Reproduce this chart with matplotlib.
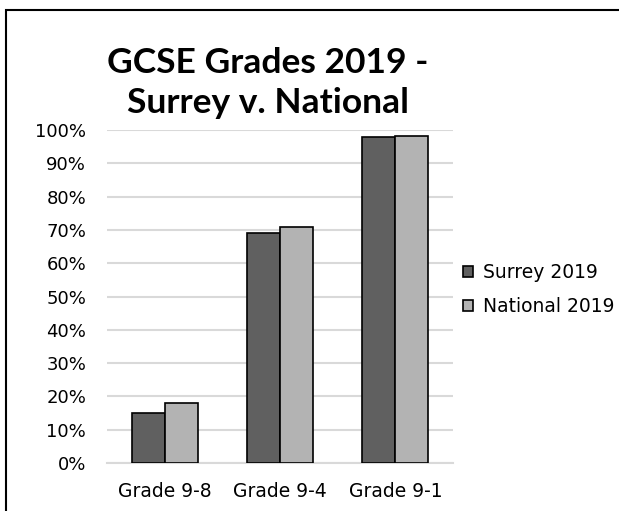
import numpy as np
import matplotlib.pyplot as plt
from matplotlib.patches import Rectangle

plt.rcParams['font.family'] = ['DejaVu Sans']

categories = ["Grade 9-8", "Grade 9-4", "Grade 9-1"]
surrey_2019 = [15, 69, 98]
national_2019 = [18, 71, 98.3]
series_names = ["Surrey 2019", "National 2019"]
ytick_labels = ["0%", "10%", "20%", "30%", "40%", "50%", "60%", "70%", "80%", "90%", "100%"]
title_lines = ["GCSE Grades 2019 -", "Surrey v. National"]

fig = plt.figure(figsize=(6.19, 5.11), dpi=100)
ax = fig.add_axes([107 / 619, 48 / 511, 346 / 619, 333 / 511])

x = np.arange(len(categories))
w = 0.287
ax.bar(x - w / 2, surrey_2019, w, color="#606060", edgecolor="black", linewidth=1.2,
       label=series_names[0], zorder=3)
ax.bar(x + w / 2, national_2019, w, color="#b3b3b3", edgecolor="black", linewidth=1.2,
       label=series_names[1], zorder=3)

ax.set_xlim(-0.5, 2.5)
ax.set_ylim(0, 100)
ax.set_yticks(np.arange(0, 101, 10))
ax.set_yticklabels(ytick_labels, fontsize=13)
ax.set_xticks(x)
ax.set_xticklabels(categories, fontsize=13.5)
ax.tick_params(length=0)
ax.tick_params(axis='x', pad=14)
ax.tick_params(axis='y', pad=15)
ax.grid(axis='y', color="#d9d9d9", linewidth=1.5, zorder=0)
for s in ["top", "right", "left"]:
    ax.spines[s].set_visible(False)
ax.spines["bottom"].set_color("#d9d9d9")
ax.spines["bottom"].set_linewidth(1.5)

# two title lines placed separately so their baselines can be set
for line, base in zip(title_lines, [73, 113]):
    fig.text(268 / 619, 1 - base / 511, line, ha="center", va="baseline",
             family=['Lato', 'DejaVu Sans'], fontsize=25.5, fontweight="bold")

leg = ax.legend(loc="center left", bbox_to_anchor=(1 + 10 / 346, 0.52), frameon=False,
                fontsize=13.5, handlelength=0.55, handleheight=0.55, handletextpad=0.5,
                labelspacing=0.8, borderaxespad=0, borderpad=0)

fig.patches.append(Rectangle((6 / 619, -0.1), 1.2, 1.1 - 10 / 511, transform=fig.transFigure,
                             fill=False, edgecolor="black", linewidth=1.5))

fig.savefig("out.png", dpi=100)
